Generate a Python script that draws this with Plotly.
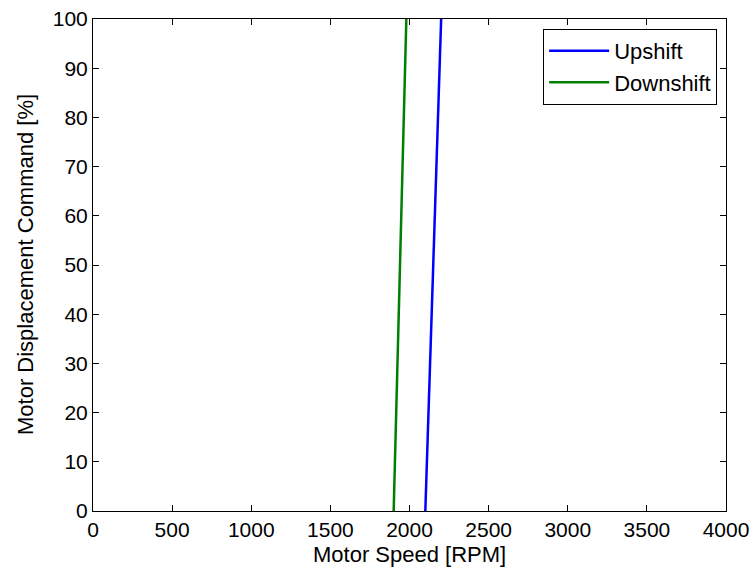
import plotly.graph_objects as go

upshift_speed = [2100, 2200]
upshift_cmd = [0, 100]
downshift_speed = [1900, 1980]
downshift_cmd = [0, 100]

x_ticks = [0, 500, 1000, 1500, 2000, 2500, 3000, 3500, 4000]
y_ticks = [0, 10, 20, 30, 40, 50, 60, 70, 80, 90, 100]

x_title = "Motor Speed [RPM]"
y_title = "Motor Displacement Command [%]"

fig = go.Figure()
fig.add_trace(go.Scatter(x=upshift_speed, y=upshift_cmd, mode="lines", name="Upshift",
                         line=dict(color="#0000ff", width=2.5)))
fig.add_trace(go.Scatter(x=downshift_speed, y=downshift_cmd, mode="lines", name="Downshift",
                         line=dict(color="#008000", width=2.5)))

axis_common = dict(showline=True, linecolor="black", linewidth=1, mirror="ticks",
                   ticks="inside", ticklen=6, tickcolor="black", showgrid=False,
                   zeroline=False, automargin=False, tickfont=dict(size=21, color="black"))

fig.update_layout(
    width=754, height=574,
    margin=dict(l=93, r=28, t=19, b=63),
    paper_bgcolor="white", plot_bgcolor="white",
    font=dict(family="Liberation Sans, Arial, sans-serif", color="black"),
    xaxis=dict(range=[0, 4000], tickvals=x_ticks, **axis_common),
    yaxis=dict(range=[0, 100], tickvals=y_ticks, **axis_common),
    legend=dict(x=0.986, y=0.98, xanchor="right", yanchor="top",
                bordercolor="black", borderwidth=1, bgcolor="white",
                itemwidth=60,
                font=dict(size=22, color="black"), tracegroupgap=0),
    showlegend=True,
)

fig.add_annotation(text=x_title, xref="paper", yref="paper",
                   x=0.5, y=0, xanchor="center", yanchor="middle", yshift=-43,
                   showarrow=False, font=dict(size=22, color="black"))
fig.add_annotation(text=y_title, textangle=-90, xref="paper", yref="paper",
                   x=0, y=0.5, xanchor="center", yanchor="middle", xshift=-68,
                   showarrow=False, font=dict(size=22, color="black"))

# remove the default page margin so the figure sits at the window origin
fig.write_html("out.html", config={"displayModeBar": False},
               post_script="document.body.style.margin='0';document.body.style.overflow='hidden';")
